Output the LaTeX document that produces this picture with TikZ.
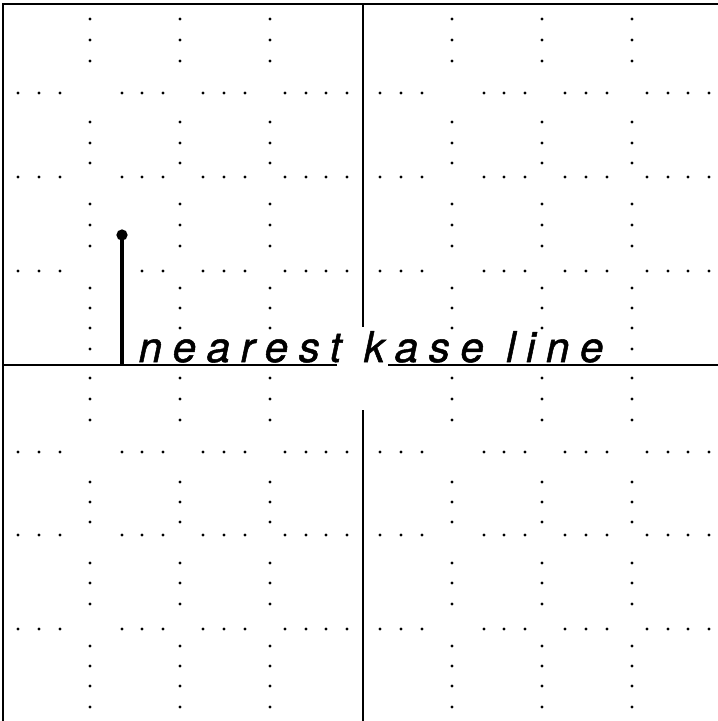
\documentclass[tikz,border=0pt]{standalone}
\usepackage{fontspec}
\newfontfamily\handfont[LetterSpace=25, FakeBold=1.2]{TeX Gyre Heros}
\begin{document}
\begin{tikzpicture}[x=0.01cm, y=-0.01cm,
	frame/.style={line width=0.6pt},
	axis/.style={line width=0.45pt},
	dot/.style={fill},
	stroke/.style={line width=1.4pt, line cap=round},
	hand/.style={font=\handfont\itshape\fontsize{12}{14}\selectfont}]

	\useasboundingbox (0,0) rectangle (718,721);

	\draw[frame] (3,721) -- (3,4) -- (718,4);
	\draw[axis] (363,4) -- (363,327);
	\draw[axis] (363,410) -- (363,721);
	\draw[axis] (3,365) -- (337,365);
	\draw[axis] (388,365) -- (718,365);

	\foreach \x in {90,180,270,452,542,632}
		\foreach \y in {19,40,61,122,143,163,204,225,246,288,308,328,378,399,420,482,502,522,563,583,604,646,666,686,707}
			\fill[dot] (\x,\y) circle[radius=0.45pt];
	\foreach \x in {90,632}
		\fill[dot] (\x,349) circle[radius=0.45pt];
	\foreach \y in {93,177,271,452,535,629}
		\foreach \x in {18,39,60,122,142,163,203,224,245,285,306,326,347,380,401,422,484,504,525,565,586,607,647,668,688,709}
			\fill[dot] (\x,\y) circle[radius=0.45pt];

	\draw[stroke] (122,237) -- (122,363);
	\fill (122,235) circle[radius=1.6pt];

	\node (label) [hand, anchor=base west, inner sep=0pt] at (138,362) {nearest kase line};

\end{tikzpicture}
\end{document}
